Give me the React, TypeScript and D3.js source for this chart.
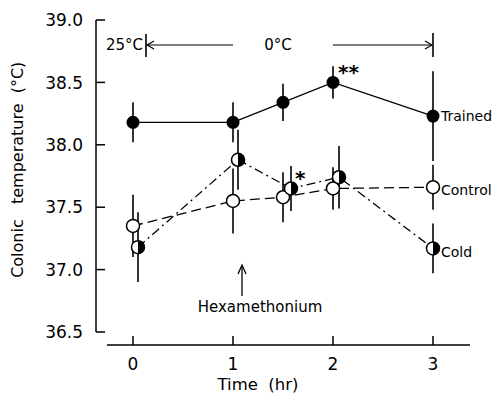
import * as d3 from 'd3'

const yTicks = [36.5, 37.0, 37.5, 38.0, 38.5, 39.0]
const xTicks = [0, 1, 2, 3]

const trainedT = [0, 1, 1.5, 2, 3]
const trainedV = [38.18, 38.18, 38.34, 38.5, 38.23]
const trainedE = [0.16, 0.16, 0.15, 0.13, 0.36]

const controlT = [0, 1, 1.5, 2, 3]
const controlV = [37.35, 37.55, 37.58, 37.65, 37.66]
const controlE = [0.25, 0.26, 0.2, 0.17, 0.18]

const coldT = [0.05, 1.05, 1.58, 2.06, 3]
const coldV = [37.18, 37.88, 37.65, 37.74, 37.17]
const coldE = [0.28, 0.24, 0.18, 0.25, 0.2]

const FONT = 'DejaVu Sans, sans-serif'

export default function App() {
  const x = d3.scaleLinear().domain([0, 3]).range([133, 433])
  const y = d3.scaleLinear().domain([36.5, 39]).range([332, 20])
  const r = 6.5

  const pts = (t: number[], v: number[]) => t.map((d, i) => [x(d), y(v[i])] as [number, number])
  const line = d3.line()

  const errBars = (t: number[], v: number[], e: number[], key: string) =>
    t.map((d, i) => (
      <line key={key + i} x1={x(d)} x2={x(d)} y1={y(v[i] + e[i])} y2={y(v[i] - e[i])} stroke="#000" strokeWidth={1.6} />
    ))

  const halfArc = (cx: number, cy: number) =>
    `M${cx},${cy - r} A${r},${r} 0 0 1 ${cx},${cy + r} Z`

  const axisY = 345
  const annY = 45

  return (
    <svg width={498} height={396} style={{ position: 'absolute', left: 0, top: 0, background: '#fff' }} fontFamily={FONT}>
      {/* y axis */}
      <line x1={96} x2={96} y1={y(39)} y2={y(36.5)} stroke="#000" strokeWidth={1.5} />
      {yTicks.map(t => (
        <g key={'yt' + t}>
          <line x1={96} x2={105} y1={y(t)} y2={y(t)} stroke="#000" strokeWidth={1.5} />
          <text x={83} y={y(t)} dy="0.36em" textAnchor="end" fontSize={17}>{t.toFixed(1)}</text>
        </g>
      ))}
      <text transform={`translate(17,${y(37.8)}) rotate(-90)`} textAnchor="middle" dy="0.35em" fontSize={16} style={{ whiteSpace: 'pre' }}>
        {'Colonic   temperature  (°C)'}
      </text>

      {/* x axis */}
      <line x1={x(-0.26)} x2={x(3.37)} y1={axisY} y2={axisY} stroke="#000" strokeWidth={1.5} />
      {xTicks.map(t => (
        <g key={'xt' + t}>
          <line x1={x(t)} x2={x(t)} y1={axisY} y2={axisY - 9} stroke="#000" strokeWidth={1.5} />
          <text x={x(t)} y={364} dy="0.36em" textAnchor="middle" fontSize={17}>{t}</text>
        </g>
      ))}
      <text x={x(1.25)} y={384} dy="0.36em" textAnchor="middle" fontSize={16.5} style={{ whiteSpace: 'pre' }}>{'Time  (hr)'}</text>

      {/* temperature periods */}
      <text x={106} y={annY} dy="0.36em" fontSize={15}>25°C</text>
      <line x1={x(0.13)} x2={x(0.13)} y1={annY - 11} y2={annY + 12} stroke="#000" strokeWidth={1.6} />
      <line x1={x(0.14)} x2={x(1)} y1={annY} y2={annY} stroke="#000" strokeWidth={1.2} />
      <path d={`M${x(0.14) + 7},${annY - 4} L${x(0.14)},${annY} L${x(0.14) + 7},${annY + 4}`} fill="none" stroke="#000" strokeWidth={1.2} />
      <text x={x(1.45)} y={annY} dy="0.36em" textAnchor="middle" fontSize={15}>0°C</text>
      <line x1={x(2)} x2={x(3) - 1} y1={annY} y2={annY} stroke="#000" strokeWidth={1.2} />
      <path d={`M${x(3) - 8},${annY - 4} L${x(3) - 1},${annY} L${x(3) - 8},${annY + 4}`} fill="none" stroke="#000" strokeWidth={1.2} />
      <line x1={x(3)} x2={x(3)} y1={annY - 12} y2={annY + 12} stroke="#000" strokeWidth={1.6} />

      {/* hexamethonium */}
      <line x1={x(1.09)} x2={x(1.09)} y1={296} y2={266} stroke="#000" strokeWidth={1.3} />
      <path d={`M${x(1.09) - 4},${274} L${x(1.09)},${265} L${x(1.09) + 4},${274}`} fill="none" stroke="#000" strokeWidth={1.3} />
      <text x={x(1.27)} y={307} dy="0.36em" textAnchor="middle" fontSize={15}>Hexamethonium</text>

      {/* error bars */}
      {errBars(trainedT, trainedV, trainedE, 'te')}
      {errBars(controlT, controlV, controlE, 'ce')}
      {errBars(coldT, coldV, coldE, 'de')}

      {/* lines */}
      <path d={line(pts(trainedT, trainedV)) || ''} fill="none" stroke="#000" strokeWidth={1.3} />
      <path d={line(pts(controlT, controlV)) || ''} fill="none" stroke="#000" strokeWidth={1.3} strokeDasharray="10,5" />
      <path d={line(pts(coldT, coldV)) || ''} fill="none" stroke="#000" strokeWidth={1.3} strokeDasharray="9,4,2,4" />

      {/* markers */}
      {pts(controlT, controlV).map(([cx, cy], i) => (
        <circle key={'cm' + i} cx={cx} cy={cy} r={r} fill="#fff" stroke="#000" strokeWidth={1.5} />
      ))}
      {pts(coldT, coldV).map(([cx, cy], i) => (
        <g key={'dm' + i}>
          <circle cx={cx} cy={cy} r={r} fill="#fff" stroke="#000" strokeWidth={1.5} />
          <path d={halfArc(cx, cy)} fill="#000" />
        </g>
      ))}
      {pts(trainedT, trainedV).map(([cx, cy], i) => (
        <circle key={'tm' + i} cx={cx} cy={cy} r={r} fill="#000" />
      ))}

      {/* significance */}
      <text x={x(2) + 5} y={y(38.5) - 11} dy="0.36em" fontSize={20} fontWeight="bold">**</text>
      <text x={x(1.58) + 4} y={178} dy="0.36em" fontSize={20} fontWeight="bold">*</text>

      {/* series labels */}
      <text x={x(3) + 8} y={y(38.23)} dy="0.36em" fontSize={14}>Trained</text>
      <text x={x(3) + 8} y={y(37.66) + 3} dy="0.36em" fontSize={14}>Control</text>
      <text x={x(3) + 8} y={y(37.17) + 4} dy="0.36em" fontSize={14}>Cold</text>
    </svg>
  )
}
